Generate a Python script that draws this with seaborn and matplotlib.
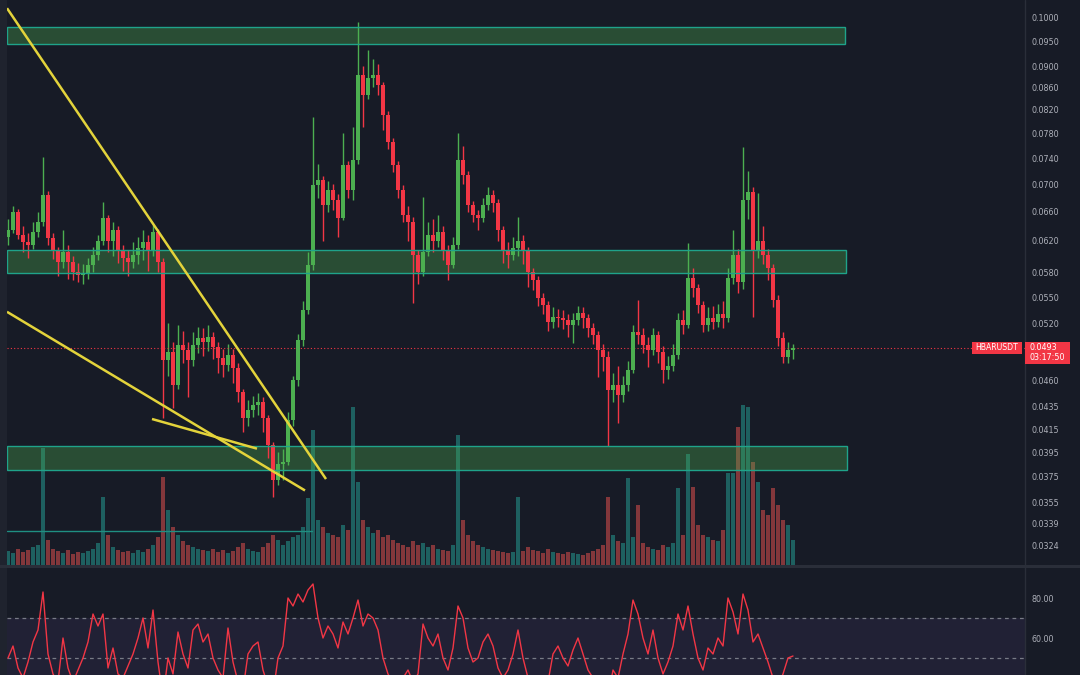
import numpy as np
import pandas as pd
import matplotlib
matplotlib.use("Agg")
import matplotlib.pyplot as plt
import seaborn as sns
from matplotlib.patches import Rectangle
from matplotlib.lines import Line2D
from matplotlib.ticker import FixedLocator, NullLocator, FuncFormatter

# ---------------- data ----------------
first_open = 0.0625
close = [0.0635, 0.0660, 0.0628, 0.0618, 0.0615, 0.0632, 0.0646, 0.0684, 0.0624, 0.0608,
         0.0593, 0.0605, 0.0593, 0.0580, 0.0577, 0.0579, 0.0589, 0.0602, 0.0620, 0.0651,
         0.0620, 0.0635, 0.0608, 0.0598, 0.0593, 0.0602, 0.0611, 0.0618, 0.0608, 0.0632,
         0.0593, 0.0481, 0.0489, 0.0456, 0.0497, 0.0491, 0.0481, 0.0497, 0.0504, 0.0500,
         0.0505, 0.0494, 0.0483, 0.0476, 0.0486, 0.0473, 0.0449, 0.0425, 0.0432, 0.0437,
         0.0440, 0.0425, 0.0401, 0.0372, 0.0385, 0.0387, 0.0423, 0.0461, 0.0502, 0.0535,
         0.0589, 0.0699, 0.0706, 0.0669, 0.0691, 0.0677, 0.0651, 0.0729, 0.0691, 0.0737,
         0.0884, 0.0847, 0.0878, 0.0884, 0.0865, 0.0811, 0.0766, 0.0729, 0.0691, 0.0656,
         0.0646, 0.0602, 0.0580, 0.0605, 0.0628, 0.0620, 0.0632, 0.0608, 0.0589, 0.0615,
         0.0737, 0.0714, 0.0669, 0.0656, 0.0651, 0.0669, 0.0684, 0.0672, 0.0635, 0.0608,
         0.0602, 0.0611, 0.0620, 0.0608, 0.0580, 0.0570, 0.0549, 0.0541, 0.0522, 0.0527,
         0.0526, 0.0524, 0.0518, 0.0524, 0.0532, 0.0526, 0.0515, 0.0507, 0.0491, 0.0484,
         0.0451, 0.0456, 0.0446, 0.0456, 0.0471, 0.0511, 0.0507, 0.0497, 0.0491, 0.0507,
         0.0489, 0.0471, 0.0475, 0.0486, 0.0524, 0.0518, 0.0573, 0.0561, 0.0541, 0.0518,
         0.0526, 0.0522, 0.0530, 0.0526, 0.0573, 0.0602, 0.0568, 0.0677, 0.0688, 0.0608,
         0.0620, 0.0602, 0.0585, 0.0547, 0.0504, 0.0484, 0.0491, 0.0493]
high = [0.0650, 0.0668, 0.0664, 0.0640, 0.0630, 0.0645, 0.0660, 0.0742, 0.0690, 0.0630,
        0.0612, 0.0635, 0.0615, 0.0600, 0.0592, 0.0590, 0.0598, 0.0612, 0.0628, 0.0674,
        0.0655, 0.0645, 0.0640, 0.0615, 0.0608, 0.0618, 0.0625, 0.0635, 0.0628, 0.0642,
        0.0636, 0.0598, 0.0520, 0.0500, 0.0518, 0.0512, 0.0500, 0.0510, 0.0516, 0.0515,
        0.0518, 0.0510, 0.0500, 0.0492, 0.0498, 0.0492, 0.0478, 0.0452, 0.0442, 0.0445,
        0.0448, 0.0444, 0.0428, 0.0404, 0.0395, 0.0398, 0.0430, 0.0465, 0.0508, 0.0545,
        0.0605, 0.0808, 0.0730, 0.0712, 0.0705, 0.0700, 0.0685, 0.0781, 0.0735, 0.0791,
        0.0989, 0.0900, 0.0932, 0.0915, 0.0905, 0.0870, 0.0818, 0.0772, 0.0735, 0.0698,
        0.0668, 0.0652, 0.0608, 0.0681, 0.0645, 0.0650, 0.0656, 0.0640, 0.0615, 0.0625,
        0.0781, 0.0760, 0.0720, 0.0675, 0.0662, 0.0680, 0.0696, 0.0692, 0.0678, 0.0640,
        0.0618, 0.0625, 0.0653, 0.0628, 0.0612, 0.0585, 0.0575, 0.0555, 0.0546, 0.0538,
        0.0536, 0.0535, 0.0530, 0.0532, 0.0540, 0.0538, 0.0530, 0.0520, 0.0512, 0.0498,
        0.0490, 0.0468, 0.0475, 0.0465, 0.0480, 0.0518, 0.0547, 0.0515, 0.0505, 0.0515,
        0.0512, 0.0495, 0.0485, 0.0498, 0.0532, 0.0535, 0.0617, 0.0585, 0.0566, 0.0546,
        0.0538, 0.0540, 0.0542, 0.0545, 0.0585, 0.0635, 0.0610, 0.0758, 0.0720, 0.0695,
        0.0687, 0.0640, 0.0610, 0.0590, 0.0552, 0.0510, 0.0500, 0.0498]
low = [0.0615, 0.0630, 0.0622, 0.0605, 0.0598, 0.0610, 0.0625, 0.0640, 0.0615, 0.0596,
       0.0575, 0.0585, 0.0572, 0.0570, 0.0568, 0.0566, 0.0572, 0.0580, 0.0595, 0.0615,
       0.0605, 0.0600, 0.0592, 0.0582, 0.0575, 0.0585, 0.0590, 0.0595, 0.0582, 0.0600,
       0.0580, 0.0425, 0.0465, 0.0434, 0.0452, 0.0478, 0.0444, 0.0475, 0.0488, 0.0485,
       0.0490, 0.0482, 0.0468, 0.0464, 0.0470, 0.0458, 0.0440, 0.0412, 0.0418, 0.0426,
       0.0428, 0.0412, 0.0390, 0.0359, 0.0368, 0.0372, 0.0384, 0.0418, 0.0455, 0.0496,
       0.0530, 0.0583, 0.0680, 0.0620, 0.0660, 0.0662, 0.0625, 0.0648, 0.0680, 0.0677,
       0.0730, 0.0791, 0.0840, 0.0862, 0.0846, 0.0786, 0.0755, 0.0718, 0.0680, 0.0645,
       0.0620, 0.0543, 0.0565, 0.0575, 0.0600, 0.0605, 0.0612, 0.0595, 0.0570, 0.0585,
       0.0610, 0.0700, 0.0660, 0.0645, 0.0635, 0.0645, 0.0662, 0.0660, 0.0620, 0.0592,
       0.0585, 0.0595, 0.0600, 0.0590, 0.0562, 0.0558, 0.0540, 0.0530, 0.0512, 0.0515,
       0.0516, 0.0514, 0.0505, 0.0499, 0.0518, 0.0515, 0.0505, 0.0498, 0.0464, 0.0470,
       0.0400, 0.0440, 0.0420, 0.0440, 0.0450, 0.0468, 0.0498, 0.0488, 0.0474, 0.0486,
       0.0478, 0.0458, 0.0462, 0.0470, 0.0482, 0.0508, 0.0515, 0.0550, 0.0532, 0.0510,
       0.0512, 0.0514, 0.0516, 0.0515, 0.0522, 0.0565, 0.0555, 0.0560, 0.0650, 0.0527,
       0.0598, 0.0590, 0.0570, 0.0538, 0.0495, 0.0478, 0.0478, 0.0482]
volume = [14, 12, 16, 13, 15, 18, 20, 117, 25, 16,
          14, 12, 15, 11, 13, 12, 14, 16, 22, 68,
          30, 18, 15, 13, 14, 12, 15, 13, 16, 20,
          28, 88, 55, 38, 30, 24, 20, 18, 16, 15,
          14, 16, 13, 15, 12, 14, 18, 22, 16, 14,
          13, 18, 22, 30, 25, 20, 24, 28, 30, 38,
          67, 135, 45, 38, 32, 30, 28, 40, 35, 158,
          83, 45, 38, 32, 35, 28, 30, 25, 22, 20,
          18, 24, 20, 22, 18, 20, 16, 15, 14, 20,
          130, 45, 30, 24, 20, 18, 16, 15, 14, 13,
          12, 13, 68, 14, 18, 15, 14, 12, 16, 13,
          12, 11, 13, 12, 11, 10, 12, 14, 16, 20,
          68, 30, 24, 22, 87, 28, 60, 22, 18, 16,
          15, 20, 18, 22, 77, 30, 111, 78, 40, 30,
          28, 25, 24, 35, 92, 92, 138, 160, 158, 103,
          83, 55, 50, 77, 60, 45, 40, 25]
rsi = [50, 56, 45, 40, 48, 58, 64, 83, 52, 42,
       38, 60, 45, 38, 44, 50, 58, 72, 66, 72,
       45, 55, 42, 40, 46, 52, 60, 70, 55, 74,
       48, 30, 50, 42, 63, 52, 45, 64, 67, 58,
       62, 50, 44, 40, 65, 48, 38, 34, 52, 56,
       58, 44, 36, 32, 50, 56, 80, 76, 82, 78,
       84, 87, 70, 60, 66, 62, 55, 68, 62, 70,
       79, 66, 72, 70, 64, 50, 42, 38, 36, 40,
       44, 38, 42, 67, 60, 56, 62, 50, 44, 55,
       76, 70, 55, 48, 50, 58, 62, 56, 45, 40,
       44, 52, 64, 50, 40, 38, 36, 40, 38, 52,
       56, 50, 46, 54, 60, 52, 44, 40, 38, 40,
       30, 44, 40, 52, 62, 79, 72, 60, 52, 64,
       50, 42, 48, 56, 72, 64, 76, 62, 50, 44,
       55, 52, 60, 56, 80, 73, 62, 82, 74, 58,
       62, 55, 48, 40, 36, 42, 50, 51]

price_ticks = [0.1000, 0.0950, 0.0900, 0.0860, 0.0820, 0.0780, 0.0740, 0.0700,
               0.0660, 0.0620, 0.0580, 0.0550, 0.0520, 0.0460, 0.0435, 0.0415,
               0.0395, 0.0375, 0.0355, 0.0339, 0.0324]
rsi_ticks = [80, 60]
zone_low = [0.0944, 0.0579, 0.0380]
zone_high = [0.0979, 0.0608, 0.0400]
trend_start = [0.1019, 0.0533, 0.0424]
trend_end = [0.0373, 0.0364, 0.0398]
last_price = 0.0493
symbol = "HBARUSDT"
countdown = "03:17:50"
vol_level = 34

# ---------------- styling ----------------
BG = "#171b26"
GREEN = "#4caf50"
RED = "#f23645"
TEAL = "#26a69a"
VRED = "#ef5350"
TXT = "#aeb1ba"
SEP = "#2a2e39"

sns.set_theme(style="dark", rc={"axes.facecolor": BG, "figure.facecolor": BG})
plt.rcParams["font.family"] = ["DejaVu Sans"]

W, H = 1080, 675
df = pd.DataFrame({"idx": np.arange(len(close)), "close": close, "high": high,
                   "low": low, "volume": volume, "rsi": rsi})
df["open"] = [first_open] + close[:-1]
df["up"] = df["close"] >= df["open"]

fig = plt.figure(figsize=(W / 100, H / 100), dpi=100, facecolor=BG)

def fx(px):
    return px / W

def fy(py):
    return 1 - py / H

main_rect = [fx(7), fy(565), fx(1018), 565 / H]
xlim = (-0.2, (1025 - 8) / 5)

# volume (background layer)
ax_vol = fig.add_axes(main_rect, facecolor=BG)
vcol = [TEAL if u else VRED for u in df["up"]]
ax_vol.bar(df["idx"], df["volume"], width=0.8, color=vcol, alpha=0.5, linewidth=0)
ax_vol.plot([-0.2, 60.8], [vol_level, vol_level], color="#1f8f82", lw=1)
ax_vol.set_ylim(0, 565)
ax_vol.set_xlim(*xlim)
ax_vol.axis("off")

# price layer
ax = fig.add_axes(main_rect, sharex=ax_vol)
ax.patch.set_visible(False)
ax.set_yscale("log")
ax.set_ylim(0.031047, 0.10370)
ax.set_xlim(*xlim)

# zones
zone_end = [167.4, 167.6, 167.8]
for lo, hi, xe in zip(zone_low, zone_high, zone_end):
    ax.add_patch(Rectangle((-0.2, lo), xe + 0.2, hi - lo, facecolor=GREEN, alpha=0.34,
                           edgecolor="none", zorder=1))
    ax.add_patch(Rectangle((-0.2, lo), xe + 0.2, hi - lo, facecolor="none",
                           edgecolor="#1fa38a", lw=1.0, zorder=4))

# candles
for up, col in [(True, GREEN), (False, RED)]:
    d = df[df["up"] == up]
    ax.vlines(d["idx"], d["low"], d["high"], color=col, lw=1.0, zorder=2)
    bottom = np.minimum(d["open"], d["close"])
    height = np.abs(d["close"] - d["open"])
    ax.bar(d["idx"], height, bottom=bottom, width=0.75, color=col, linewidth=0, zorder=3)

# trend lines
trend_x = [(-0.2, 63.6), (-0.2, 59.4), (28.8, 49.8)]
for (x0, x1), p0, p1 in zip(trend_x, trend_start, trend_end):
    ax.plot([x0, x1], [p0, p1], color="#e3d33b", lw=1.8, zorder=5, solid_capstyle="butt")

# last price dotted line
ax.axhline(last_price, color=RED, lw=0.8, ls=(0, (1, 2)), zorder=2)

ax.yaxis.tick_right()
ax.yaxis.set_major_locator(FixedLocator(price_ticks))
ax.yaxis.set_minor_locator(NullLocator())
ax.yaxis.set_major_formatter(FuncFormatter(lambda v, p: f"{v:.4f}"))
ax.tick_params(axis="y", length=0, pad=5, labelsize=5.8, labelcolor=TXT)
ax.tick_params(axis="x", bottom=False, labelbottom=False)
for s in ax.spines.values():
    s.set_visible(False)
ax.grid(False)

# RSI pane
ax_rsi = fig.add_axes([fx(7), 0, fx(1018), (H - 568) / H], facecolor=BG)
ax_rsi.axhspan(30, 70, color="#7e57c2", alpha=0.1, lw=0)
for lvl in (70, 50):
    ax_rsi.axhline(lvl, color="#787b86", lw=0.9, ls=(0, (3, 3)))
sns.lineplot(data=df, x="idx", y="rsi", ax=ax_rsi, color=RED, lw=1.0)
ax_rsi.set_xlim(*xlim)
ax_rsi.set_ylim(41.5, 95)
ax_rsi.yaxis.tick_right()
ax_rsi.set_yticks(rsi_ticks)
ax_rsi.set_yticklabels([f"{v:.2f}" for v in rsi_ticks])
ax_rsi.tick_params(axis="y", length=0, pad=5, labelsize=5.8, labelcolor=TXT)
ax_rsi.tick_params(axis="x", bottom=False, labelbottom=False)
ax_rsi.set_xlabel("")
ax_rsi.set_ylabel("")
ax_rsi.grid(False)
for s in ax_rsi.spines.values():
    s.set_visible(False)

# frame details
fig.patches.append(Rectangle((0, 0), fx(7), 1, transform=fig.transFigure,
                             facecolor="#1f232e", edgecolor="none", zorder=-1))
fig.patches.append(Rectangle((0, fy(568)), 1, 3 / H, transform=fig.transFigure,
                             facecolor=SEP, edgecolor="none", zorder=10))
fig.lines.append(Line2D([fx(1025), fx(1025)], [0, 1], transform=fig.transFigure,
                        color=SEP, lw=1, zorder=10))

# price labels
fig.patches.append(Rectangle((fx(972), fy(354)), fx(50), 12 / H, transform=fig.transFigure,
                             facecolor=RED, edgecolor="none", zorder=11))
fig.text(fx(997), fy(348), symbol, color="white", fontsize=5.6, ha="center",
         va="center", zorder=12)
fig.patches.append(Rectangle((fx(1025), fy(364)), fx(45), 22 / H, transform=fig.transFigure,
                             facecolor=RED, edgecolor="none", zorder=11))
fig.text(fx(1030), fy(348), f"{last_price:.4f}", color="white", fontsize=5.8,
         ha="left", va="center", zorder=12)
fig.text(fx(1030), fy(358), countdown, color="white", fontsize=5.8,
         ha="left", va="center", zorder=12)

fig.savefig("out.png", dpi=100, facecolor=BG)
